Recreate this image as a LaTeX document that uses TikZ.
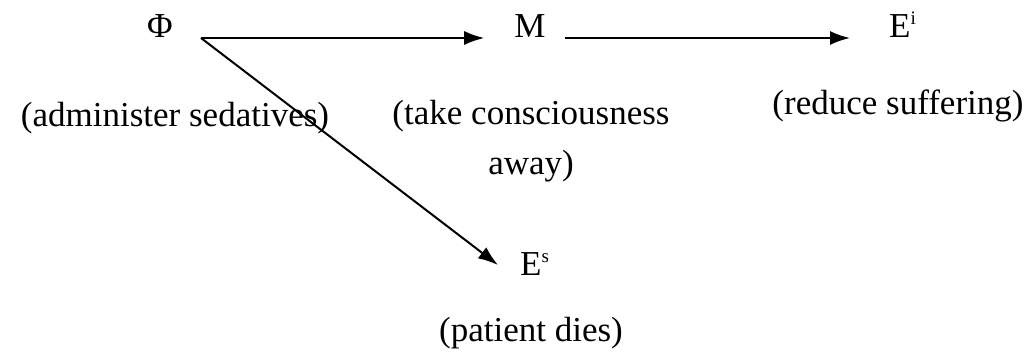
\documentclass[tikz,border=0pt]{standalone}
\usepackage{fontspec}
\setmainfont{Liberation Serif}
\usetikzlibrary{arrows.meta}
\newcommand{\mysup}[1]{\raisebox{13pt}{\fontsize{19}{19}\selectfont #1}}
\begin{document}
\begin{tikzpicture}[x=1pt,y=1pt,
  lbl/.style={inner sep=0pt, font=\fontsize{35}{50}\selectfont},
  arr/.style={line width=2pt, -{Latex[length=20pt,width=14pt]}}]
\useasboundingbox (0,0) rectangle (1026,360);
\node[lbl, anchor=base] (phi) at (160,323) {Φ};
\node[lbl, anchor=base] (m) at (530,323) {M};
\node[lbl, anchor=base west] (ei) at (889,323) {E\mysup{i}};
\node[lbl, anchor=base west] (es) at (520,85) {E\mysup{s}};
\node[lbl, anchor=base] (l1) at (175,234) {(administer sedatives)};
\node[lbl, anchor=base, align=center] (l2) at (531,186) {(take consciousness\\away)};
\node[lbl, anchor=base] (l3) at (898,246) {(reduce suffering)};
\node[lbl, anchor=base] (l4) at (531,19) {(patient dies)};
\coordinate (s1) at ([xshift=28pt,yshift=-1pt]phi.base east);
\draw[arr] (s1) -- ([xshift=-30pt,yshift=-1pt]m.base west);
\draw[arr] ([xshift=19pt,yshift=-1pt]m.base east) -- ([xshift=-39pt,yshift=-1pt]ei.base west);
\draw[arr] (s1) -- ([xshift=-22pt,yshift=10pt]es.base west);
\end{tikzpicture}
\end{document}
